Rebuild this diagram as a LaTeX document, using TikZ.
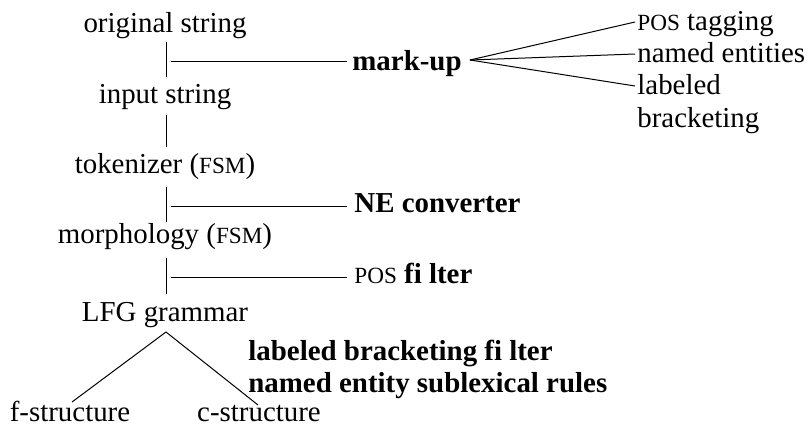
\documentclass[tikz,border=0pt]{standalone}
\usepackage{fontspec}
\setmainfont{Liberation Serif}
\usetikzlibrary{calc}
\newcommand{\smc}[1]{{\fontsize{11.6}{12}\selectfont #1}}
\begin{document}
\begin{tikzpicture}[x=0.5pt,y=-0.5pt,
  every node/.style={inner sep=0pt, font=\fontsize{14.45}{17}\selectfont},
  lbl/.style={anchor=base},
  side/.style={anchor=base west},
  bside/.style={anchor=base west, font=\fontsize{14.45}{17}\selectfont\bfseries},
  conn/.style={line width=0.5pt}]
\useasboundingbox (0,0) rectangle (810,429);
% main column
\node[lbl] (orig) at (165,32) {original string};
\node[lbl] (input) at (165,103) {input string};
\node[lbl] (tok) at (165,173) {tokenizer (\smc{FSM})};
\node[lbl] (morph) at (165,243) {morphology (\smc{FSM})};
\node[lbl] (lfg) at (165,321) {LFG grammar};
\node[lbl] (fs) at (70,421) {f-structure};
\node[lbl] (cs) at (259,421) {c-structure};
% side nodes
\node[bside] (markup) at (352,70) {mark-up};
\node[bside] (ne) at (354,212) {NE converter};
\node[side] (posf) at (354,283) {\smc{POS} \textbf{fi lter}};
\node[bside] (lbf) at (248,360) {labeled bracketing fi lter};
\node[bside] (nes) at (248,392) {named entity sublexical rules};
\node[side] (post) at (637,30) {\smc{POS} tagging};
\node[side] (nament) at (637,62) {named entities};
\node[side] (labl) at (637,94) {labeled};
\node[side] (brack) at (637,127) {bracketing};
% vertical connectors
\draw[conn] ($(orig.base)+(1,10)$) -- ($(input.base)+(1,-26)$);
\draw[conn] ($(input.base)+(1,12)$) -- ($(tok.base)+(1,-26)$);
\draw[conn] ($(tok.base)+(1,14)$) -- ($(morph.base)+(1,-21)$);
\draw[conn] ($(morph.base)+(1,15)$) -- ($(lfg.base)+(1,-27)$);
% horizontal connectors
\coordinate (j1) at (171,61);
\coordinate (j2) at (171,206);
\coordinate (j3) at (171,277);
\draw[conn, shorten >=2.5pt] (j1) -- (j1 -| markup.west);
\draw[conn, shorten >=3.5pt] (j2) -- (j2 -| ne.west);
\draw[conn, shorten >=3.5pt] (j3) -- (j3 -| posf.west);
% fan
\coordinate (fan) at ($(markup.base east)+(8,-10)$);
\draw[conn] (fan) -- ($(post.base west)+(-2,-8)$);
\draw[conn] (fan) -- ($(nament.base west)+(-2,-8)$);
\draw[conn] (fan) -- ($(labl.base west)+(-2,-8)$);
% tree
\coordinate (apex) at ($(lfg.base)+(1,11)$);
\draw[conn] ($(fs.base)+(2,-19)$) -- (apex) -- ($(cs.base)+(-1,-16)$);
\end{tikzpicture}
\end{document}
